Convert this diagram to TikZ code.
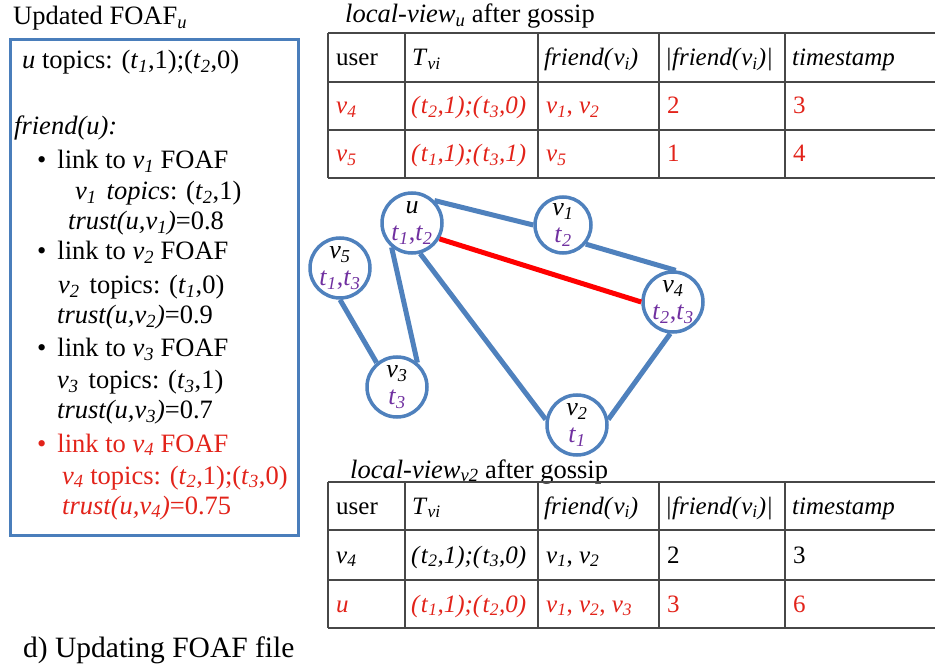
\documentclass[tikz,border=0pt]{standalone}
\usepackage{fontspec}
\setmainfont{Liberation Serif}
\definecolor{edgeblue}{HTML}{4F81BD}
\definecolor{boxblue}{HTML}{4A7EBB}
\definecolor{topicpurple}{HTML}{7030A0}
\definecolor{newred}{HTML}{E2231A}
\newcommand{\vsub}[1]{\textit{v}\textsubscript{\textit{#1}}}
\newcommand{\tsub}[1]{\textit{t}\textsubscript{\textit{#1}}}
\begin{document}
\begin{tikzpicture}[x=1pt,y=-1pt,
        every node/.style={font=\fontsize{26.5}{30}\selectfont, inner sep=0pt},
        txt/.style={anchor=base west},
        cell/.style={anchor=base west, font=\fontsize{25}{30}\selectfont},
        peer/.style={circle, draw=edgeblue, line width=3.5pt, fill=white, minimum size=60pt, align=center, font=\fontsize{26}{27}\selectfont},
        link/.style={draw=edgeblue, line width=5pt},
        gridline/.style={draw=black!72, line width=1.7pt}]
    \useasboundingbox (0,0) rectangle (935,668);

    % FOAF file of u
    \node[txt] (foaf) at (13,25) {Updated FOAF\textsubscript{\textit{u}}};
    \draw[boxblue, line width=3pt] (10,40) rectangle (298,535);
    \node[txt] (utop) at (22,69) {\textit{u} topics: (\tsub{1},1);(\tsub{2},0)};
    \node[txt] (fru) at (14,135) {\textit{friend(u):}};
    \node[txt] (b1) at (37,169) {\textbullet\hspace{11pt}link to \vsub{1} FOAF};
    \node[txt] (b1t) at (75,200) {\vsub{1}\hspace{10pt}\textit{topics}: (\tsub{2},1)};
    \node[txt] (b1r) at (68,230) {\textit{trust(u,}\vsub{1}\textit{)}=0.8};
    \node[txt] (b2) at (37,260) {\textbullet\hspace{11pt}link to \vsub{2} FOAF};
    \node[txt] (b2t) at (58,294) {\vsub{2}\hspace{10pt}topics: (\tsub{1},0)};
    \node[txt] (b2r) at (57,324) {\textit{trust(u,}\vsub{2}\textit{)}=0.9};
    \node[txt] (b3) at (37,357) {\textbullet\hspace{11pt}link to \vsub{3} FOAF};
    \node[txt] (b3t) at (57,389) {\vsub{3}\hspace{10pt}topics: (\tsub{3},1)};
    \node[txt] (b3r) at (57,419) {\textit{trust(u,}\vsub{3}\textit{)}=0.7};
    \node[txt, newred] (b4) at (37,452) {\textbullet\hspace{11pt}link to \vsub{4} FOAF};
    \node[txt, newred] (b4t) at (62,484) {\vsub{4} topics: (\tsub{2},1);(\tsub{3},0)};
    \node[txt, newred] (b4r) at (62,514) {\textit{trust(u,}\vsub{4}\textit{)}=0.75};

    % local view of u
    \node[txt] (lvu) at (345,23) {\textit{local}-\textit{view}\textsubscript{\textit{u}} after gossip};
    \foreach \y in {33,82,130,178} \draw[gridline] (328,\y) -- (935,\y);
    \foreach \x in {328,405,538,659,785} \draw[gridline] (\x,33) -- (\x,178);
    \node[cell] (ah1) at (336,66) {user};
    \node[cell] (ah2) at (412,66) {\textit{T}\textsubscript{\textit{vi}}};
    \node[cell] (ah3) at (544,66) {\textit{friend(}\vsub{i}\textit{)}};
    \node[cell] (ah4) at (665,66) {\textit{|friend(}\vsub{i}\textit{)|}};
    \node[cell] (ah5) at (792,66) {\textit{timestamp}};
    \node[cell, newred] (aa1) at (336,114) {\vsub{4}};
    \node[cell, newred] (aa2) at (411,114) {\textit{(}\tsub{2}\textit{,1);(}\tsub{3}\textit{,0)}};
    \node[cell, newred] (aa3) at (546,114) {\vsub{1}, \vsub{2}};
    \node[cell, newred] (aa4) at (667,114) {2};
    \node[cell, newred] (aa5) at (793,114) {3};
    \node[cell, newred] (ab1) at (336,162) {\vsub{5}};
    \node[cell, newred] (ab2) at (411,162) {\textit{(}\tsub{1}\textit{,1);(}\tsub{3}\textit{,1)}};
    \node[cell, newred] (ab3) at (546,162) {\vsub{5}};
    \node[cell, newred] (ab4) at (667,162) {1};
    \node[cell, newred] (ab5) at (793,162) {4};

    % graph
    \node[peer] (u) at (412,223) {\textit{u}\\\textcolor{topicpurple}{\tsub{1},\tsub{2}}};
    \node[peer, minimum size=56pt] (v1) at (563,225) {\vsub{1}\\\textcolor{topicpurple}{\tsub{2}}};
    \node[peer] (v5) at (340,268) {\vsub{5}\\\textcolor{topicpurple}{\tsub{1},\tsub{3}}};
    \node[peer] (v4) at (673,302) {\vsub{4}\\\textcolor{topicpurple}{\tsub{2},\tsub{3}}};
    \node[peer] (v3) at (397,387) {\vsub{3}\\\textcolor{topicpurple}{\tsub{3}}};
    \node[peer] (v2) at (577,425) {\vsub{2}\\\textcolor{topicpurple}{\tsub{1}}};
    \draw[link] (u.45) -- (v1.180);
    \draw[link] (v1.-40) -- (v4.85);
    \draw[link] (u.-130) -- (v3.50);
    \draw[link] (u.-75) -- (v2.170);
    \draw[link] (v5.-90) -- (v3.130);
    \draw[link] (v4.-95) -- (v2.10);
    \draw[red, line width=5pt] (u.-30) -- (v4.180);

    % local view of v2
    \node[txt] (lvv) at (350,478) {\textit{local}-\textit{view}\textsubscript{\textit{v2}} after gossip};
    \foreach \y in {482,530,580,628} \draw[gridline] (328,\y) -- (935,\y);
    \foreach \x in {328,405,538,659,785} \draw[gridline] (\x,482) -- (\x,628);
    \node[cell] (bh1) at (336,514) {user};
    \node[cell] (bh2) at (412,514) {\textit{T}\textsubscript{\textit{vi}}};
    \node[cell] (bh3) at (544,514) {\textit{friend(}\vsub{i}\textit{)}};
    \node[cell] (bh4) at (665,514) {\textit{|friend(}\vsub{i}\textit{)|}};
    \node[cell] (bh5) at (792,514) {\textit{timestamp}};
    \node[cell] (ba1) at (336,563) {\vsub{4}};
    \node[cell] (ba2) at (411,563) {\textit{(}\tsub{2}\textit{,1);(}\tsub{3}\textit{,0)}};
    \node[cell] (ba3) at (546,563) {\vsub{1}, \vsub{2}};
    \node[cell] (ba4) at (667,563) {2};
    \node[cell] (ba5) at (793,563) {3};
    \node[cell, newred] (bb1) at (336,612) {\textit{u}};
    \node[cell, newred] (bb2) at (411,612) {\textit{(}\tsub{1}\textit{,1);(}\tsub{2}\textit{,0)}};
    \node[cell, newred] (bb3) at (546,612) {\vsub{1}, \vsub{2}, \vsub{3}};
    \node[cell, newred] (bb4) at (667,612) {3};
    \node[cell, newred] (bb5) at (793,612) {6};

    \node[txt, font=\fontsize{29.5}{32}\selectfont] (cap) at (23,657) {d) Updating FOAF file};
\end{tikzpicture}
\end{document}
